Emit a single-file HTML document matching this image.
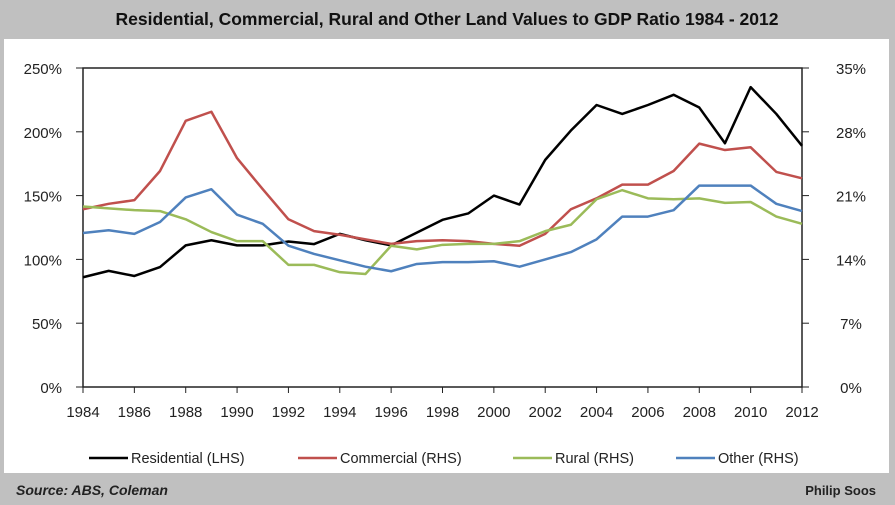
<!DOCTYPE html>
<html><head><meta charset="utf-8"><style>
body{margin:0;background:#c0c0c0;font-family:"Liberation Sans",sans-serif}
#wrap{position:relative;width:895px;height:505px;background:#c0c0c0;overflow:hidden}
</style></head><body>
<div id="wrap">
<svg id="chart" width="895" height="505" font-family="Liberation Sans, sans-serif">
<rect x="4" y="39" width="885" height="434" fill="#fff"/>
<text x="447" y="25" text-anchor="middle" font-size="17.5" font-weight="bold" fill="#111">Residential, Commercial, Rural and Other Land Values to GDP Ratio 1984 - 2012</text>
<g id="axes"></g><g id="series"></g><g id="legend"></g>
<text x="16" y="495" font-size="14" font-weight="bold" font-style="italic" fill="#222">Source: ABS, Coleman</text>
<text x="876" y="495" text-anchor="end" font-size="13" font-weight="bold" fill="#222">Philip Soos</text>
</svg></div>
<script>
const years=[1984,1985,1986,1987,1988,1989,1990,1991,1992,1993,1994,1995,1996,1997,1998,1999,2000,2001,2002,2003,2004,2005,2006,2007,2008,2009,2010,2011,2012];
const residential=[86,91,87,94,111,115,111,111,114,112,120,115,111,121,131,136,150,143,178,201,221,214,221,229,219,191,235,214,189];
const commercial=[19.5,20.1,20.5,23.7,29.2,30.2,25.1,21.7,18.4,17.1,16.7,16.2,15.7,16.0,16.1,16.0,15.7,15.5,16.8,19.5,20.7,22.2,22.2,23.7,26.7,26.0,26.3,23.6,22.9];
const rural=[19.8,19.6,19.4,19.3,18.4,17.0,16.0,16.0,13.4,13.4,12.6,12.4,15.5,15.1,15.6,15.7,15.7,16.0,17.1,17.8,20.6,21.6,20.7,20.6,20.7,20.2,20.3,18.7,17.9];
const other=[16.9,17.2,16.8,18.1,20.8,21.7,18.9,17.9,15.5,14.6,13.9,13.2,12.7,13.5,13.7,13.7,13.8,13.2,14.0,14.8,16.2,18.7,18.7,19.4,22.1,22.1,22.1,20.1,19.3];
const leftTicks=[0,50,100,150,200,250];
const rightTicks=[0,7,14,21,28,35];
const xTickLabels=[1984,1986,1988,1990,1992,1994,1996,1998,2000,2002,2004,2006,2008,2010,2012];
const L=83,R=802,T=68,B=387,NS="http://www.w3.org/2000/svg";
const x=yr=>L+(yr-1984)*(R-L)/28;
const yL=v=>B-v*(B-T)/250;
const yR=v=>B-v*(B-T)/35;
function mk(tag,at,parent,txt){const e=document.createElementNS(NS,tag);for(const k in at)e.setAttribute(k,at[k]);if(txt!=null)e.textContent=txt;parent.appendChild(e);return e;}
const ax=document.getElementById('axes');
let e=mk('rect',{x:L,y:T,width:R-L,height:B-T,fill:'none',stroke:'#222','stroke-width':1.5},ax);


leftTicks.forEach(v=>{let t=mk('line',{x1:L-7,x2:L,y1:yL(v),y2:yL(v),stroke:'#222'},ax);


let l=mk('text',{x:L-21,y:yL(v)+6,'text-anchor':'end','font-size':15,fill:'#222'},ax,v+'%');

});
rightTicks.forEach(v=>{let t=mk('line',{x1:R,x2:R+7,y1:yR(v),y2:yR(v),stroke:'#222'},ax);


let l=mk('text',{x:851,y:yR(v)+6,'text-anchor':'middle','font-size':15,fill:'#222'},ax,v+'%');

});
xTickLabels.forEach(v=>{let t=mk('line',{x1:x(v),x2:x(v),y1:B,y2:B+6,stroke:'#222'},ax);


let l=mk('text',{x:x(v),y:B+30,'text-anchor':'middle','font-size':15,fill:'#222'},ax,v);

});
const sg=document.getElementById('series');
const defs=[['residential',residential,'#000',yL,'Residential (LHS)',131],['commercial',commercial,'#c0504d',yR,'Commercial (RHS)',340],['rural',rural,'#9bbb59',yR,'Rural (RHS)',555],['other',other,'#4f81bd',yR,'Other (RHS)',718]];
const lg=document.getElementById('legend');
defs.forEach(([n,d,c,fy,lab,lx])=>{
 let p=mk('polyline',{points:d.map((v,i)=>x(years[i])+','+fy(v)).join(' '),fill:'none',stroke:c,'stroke-width':2.5,'stroke-linejoin':'round'},sg);
 
 
 let g=mk('g',{},lg);
 
 
 mk('line',{x1:lx-42,x2:lx-3,y1:458,y2:458,stroke:c,'stroke-width':2.5},g);
 mk('text',{x:lx,y:463,'font-size':14.5,fill:'#222'},g,lab);
});
</script>
</body></html>
